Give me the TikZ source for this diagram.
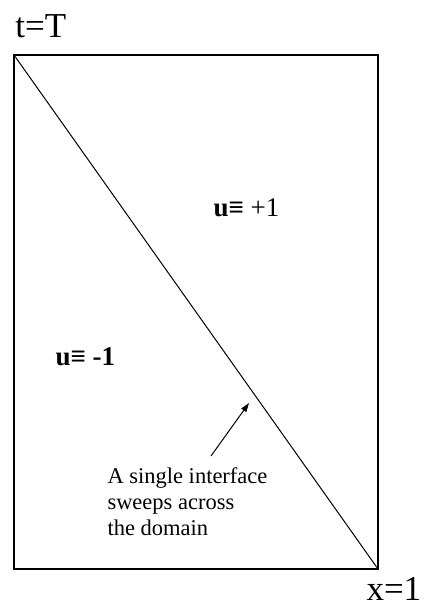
\documentclass[tikz,border=0pt]{standalone}
\usepackage{fontspec}
\setmainfont{Liberation Serif}
\usetikzlibrary{arrows.meta}

\begin{document}
\begin{tikzpicture}[x=1pt,y=-1pt,line width=1pt,>={Triangle[length=9pt,width=6pt]}]
\tikzset{axislbl/.style={inner sep=0pt,anchor=base west,font=\fontsize{35}{35}\selectfont},
  phase/.style={inner sep=0pt,anchor=base west,font=\fontsize{27}{27}\selectfont},
  note/.style={inner sep=0pt,anchor=north west,align=left,font=\fontsize{22.5}{26}\selectfont}}
\useasboundingbox (0,0) rectangle (428,607);
% ---- domain and the interface ----
\coordinate (tl) at (14,55);
\coordinate (br) at (378,569);
\draw[line width=1.4pt] (tl) rectangle (br);
\draw (tl) -- (br);
% ---- labels ----
\node[axislbl] (tT) at (15,38) {t=T};
\node[axislbl] (x1) at (366,600) {x=1};
\node[phase] (up) at (213,216) {\textbf{u≡} +1};
\node[phase] (dn) at (55,365) {\textbf{u≡ -1}};
\node[note] (txt) at (107,467) {A single interface\\sweeps across\\the domain};
% ---- arrow to the interface ----
\coordinate (tail) at (211,456);
\coordinate (tip) at (249,403);
\draw[->] (tail) -- (tip);
\end{tikzpicture}
\end{document}
